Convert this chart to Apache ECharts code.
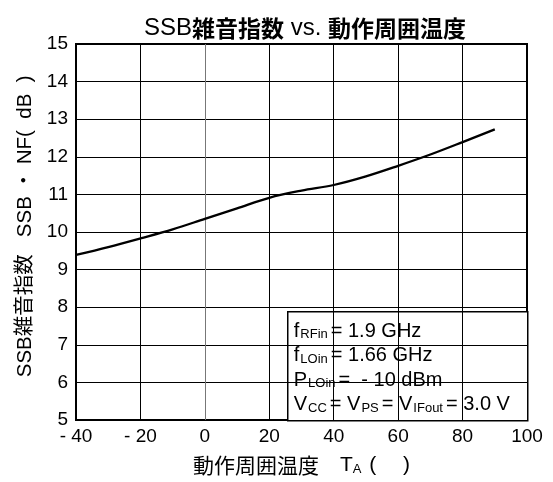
<!DOCTYPE html>
<html><head><meta charset="utf-8">
<script src="https://cdn.jsdelivr.net/npm/echarts@6/dist/echarts.min.js"></script>
<style>html,body{margin:0;padding:0;background:#fff}#c{width:553px;height:482px}</style>
</head><body><div id="c"></div>
<script>
const temps = [-40, -30, -20, -10, 0, 10, 20, 30, 40, 50, 60, 70, 80, 90];
const nf = [9.39, 9.6, 9.83, 10.07, 10.35, 10.63, 10.91, 11.1, 11.25, 11.48, 11.76, 12.06, 12.39, 12.73];
const xTicks = [-40, -20, 0, 20, 40, 60, 80, 100];
const yTicks = [5, 6, 7, 8, 9, 10, 11, 12, 13, 14, 15];

const FONT = '"Liberation Sans", Arial, "Noto Sans CJK JP", sans-serif';
const CJK = '"Noto Sans CJK JP", sans-serif';
const chart = echarts.init(document.getElementById('c'));
chart.setOption({
  animation: false,
  backgroundColor: '#fff',
  title: {
    text: '{a|SSB}{b|雑音指数}{a| vs. }{b|動作周囲温度}',
    left: 300, top: 9, textAlign: 'center',
    textStyle: {
      rich: {
        a: {fontFamily: FONT, fontSize: 24, fontWeight: 'normal', color: '#000', lineHeight: 26, verticalAlign: 'bottom'},
        b: {fontFamily: CJK, fontSize: 23, fontWeight: 'bold', color: '#000', lineHeight: 26, verticalAlign: 'bottom'}
      }
    }
  },
  grid: {left: 76, right: 26, top: 44, bottom: 62, show: true, borderColor: '#000', borderWidth: 2, backgroundColor: 'transparent'},
  xAxis: {
    type: 'value', min: -40, max: 100, interval: 20,
    axisLine: {show: false}, axisTick: {show: false},
    splitLine: {show: true, lineStyle: {color: ['#000', '#000', '#777', '#000', '#000', '#000', '#000', '#000'], width: 1}},
    axisLabel: {
      color: '#000', fontFamily: FONT, fontSize: 19, margin: 7,
      formatter: v => v < 0 ? '- ' + Math.abs(v) : String(v)
    },
    name: '{c|動作周囲温度}{a|　T}{s|A}{a| (　 )}',
    nameLocation: 'middle', nameGap: 32,
    nameTextStyle: {
      rich: {
        c: {fontFamily: CJK, fontSize: 21, color: '#000', lineHeight: 24, verticalAlign: 'bottom'},
        a: {fontFamily: FONT, fontSize: 21, color: '#000', lineHeight: 24, verticalAlign: 'bottom'},
        s: {fontFamily: FONT, fontSize: 13, color: '#000', lineHeight: 24, verticalAlign: 'bottom', padding: [0, 2, 0, 0]}
      }
    }
  },
  yAxis: {
    type: 'value', min: 5, max: 15, interval: 1,
    axisLine: {show: false}, axisTick: {show: false},
    splitLine: {show: true, lineStyle: {color: '#000', width: 1}},
    axisLabel: {color: '#000', fontFamily: FONT, fontSize: 19, margin: 8},
    name: '  SSB雑音指数   SSB ・ NF(  dB  )',
    nameLocation: 'middle', nameGap: 40, nameRotate: 90,
    nameTextStyle: {color: '#000', fontFamily: FONT, fontSize: 20.5}
  },
  series: [{
    type: 'line', data: temps.map((t, i) => [t, nf[i]]),
    smooth: 0.35, showSymbol: false,
    lineStyle: {color: '#000', width: 2.3}, z: 5
  }],
  graphic: [{
    type: 'group', left: 287, top: 311, z: 10,
    children: [{
      type: 'rect', shape: {x: 0, y: 0, width: 240, height: 109},
      style: {fill: '#fff', stroke: '#000', lineWidth: 1.5}
    }, {
      type: 'text', x: 6, y: 5,
      style: {
        text: '{n|f}{s|RFin}{n|= 1.9 GHz}\n{n|f}{s|LOin}{n|= 1.66 GHz}\n{n|P}{s|LOin}{n|=  - 10 dBm}\n{n|V}{s|CC}{n|= V}{s|PS}{n|= V}{s|IFout}{n|= 3.0 V}',
        rich: {
          n: {fontFamily: FONT, fontSize: 20, fill: '#000', lineHeight: 24.5, verticalAlign: 'bottom'},
          s: {fontFamily: FONT, fontSize: 13, fill: '#000', lineHeight: 24.5, verticalAlign: 'bottom', padding: [0, 3, 0, 1]}
        }
      }
    }]
  }]
});
</script></body></html>
